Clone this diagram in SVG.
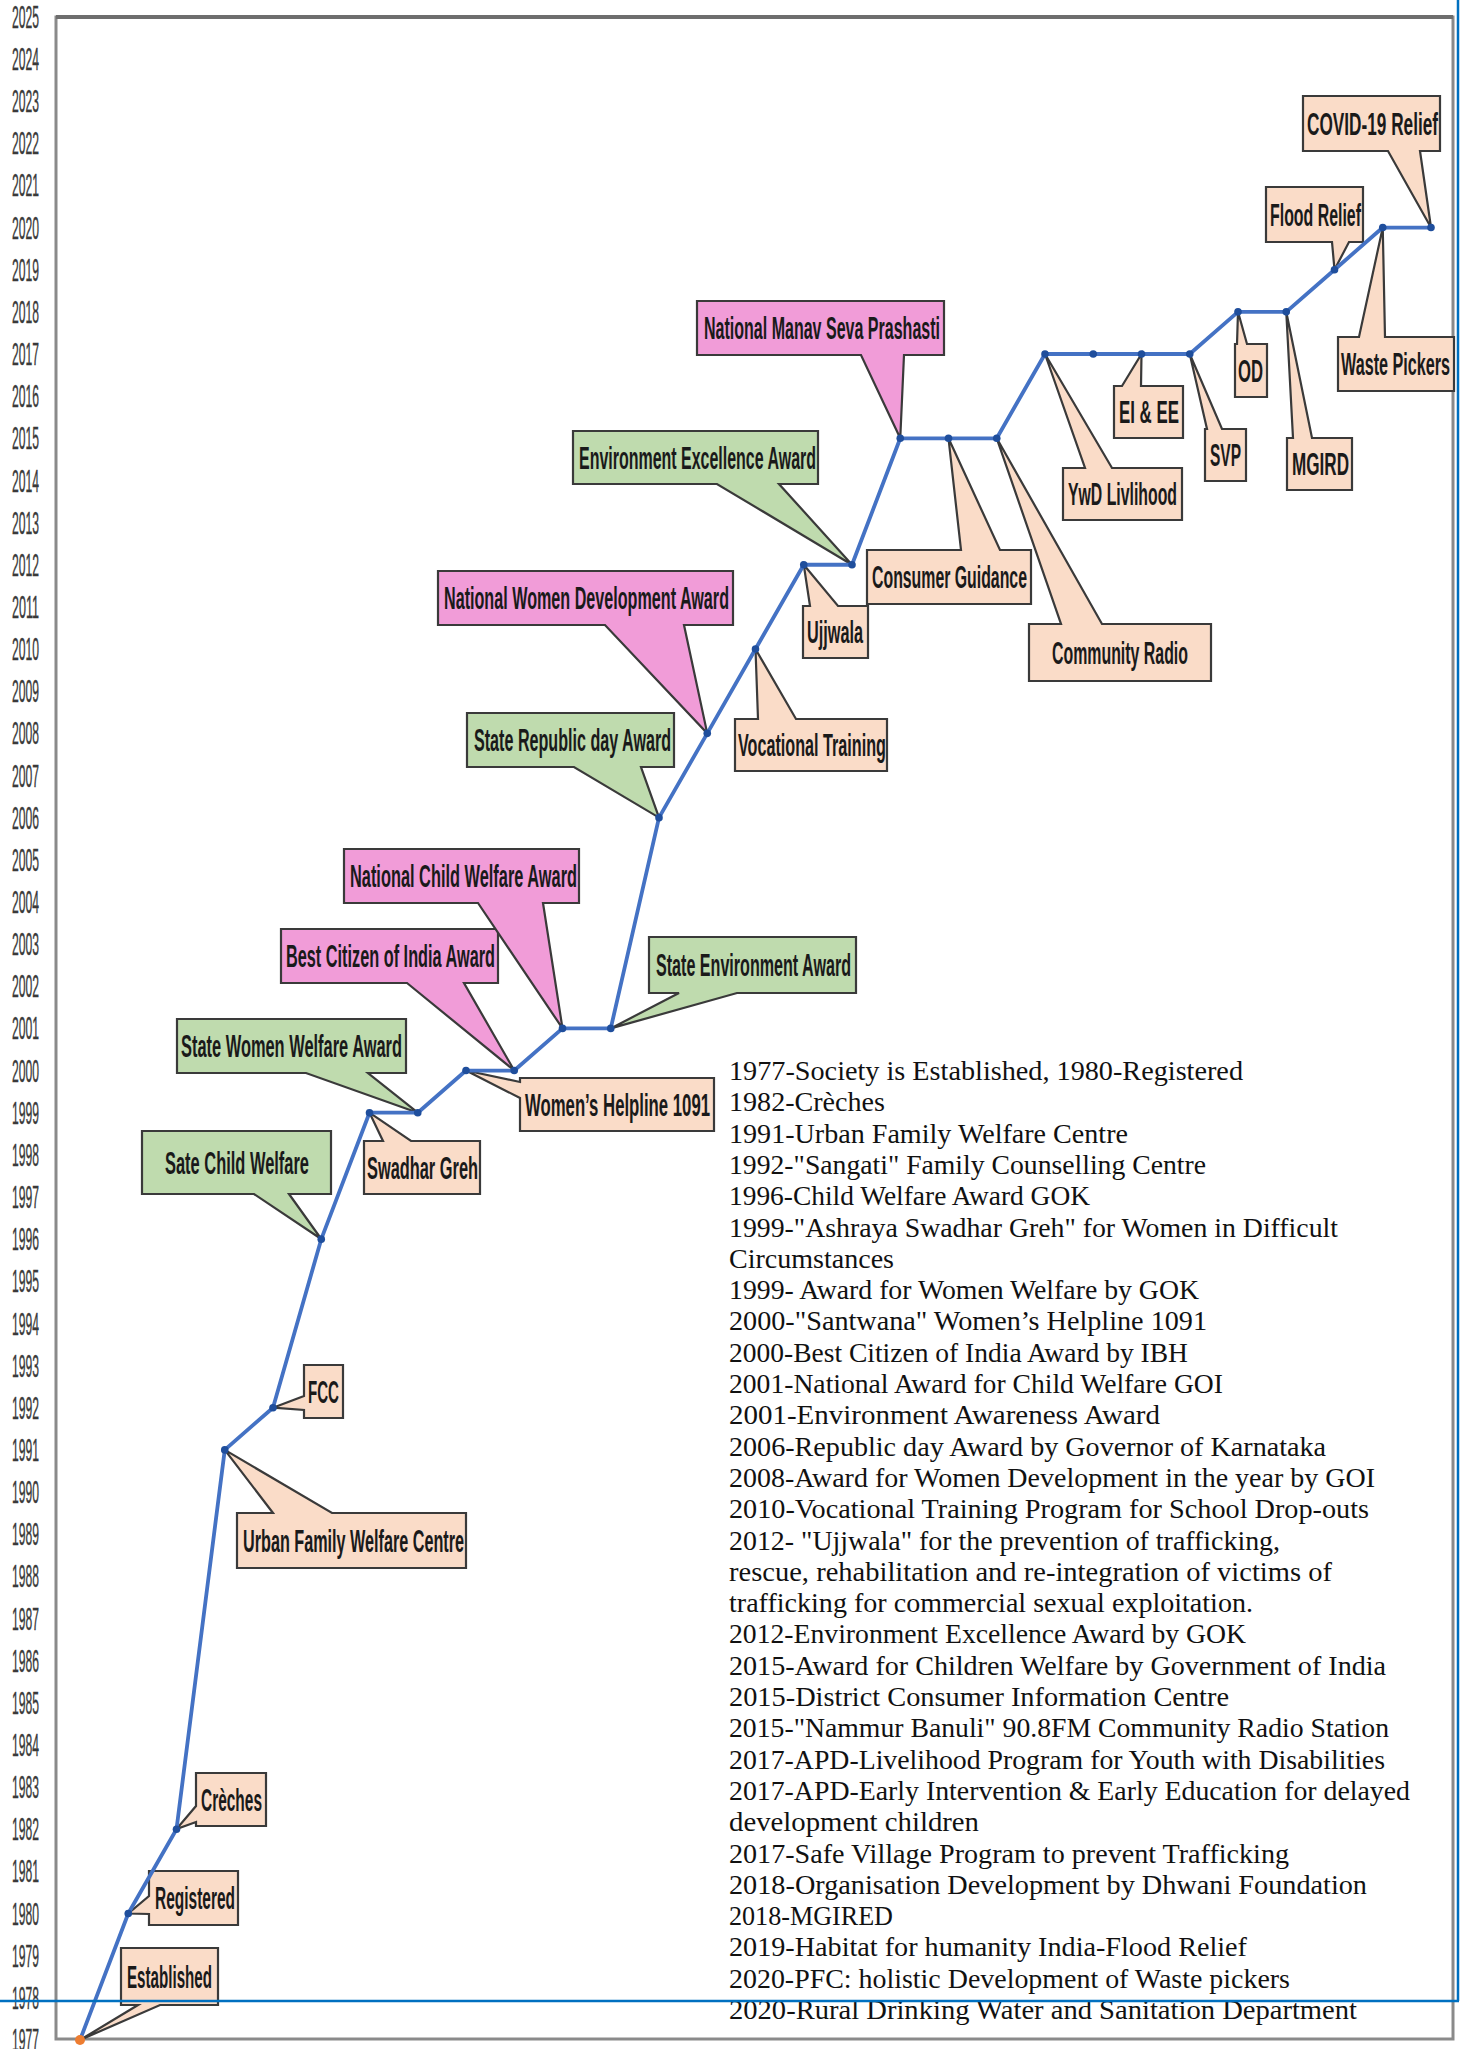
<svg xmlns="http://www.w3.org/2000/svg" width="1462" height="2049" viewBox="0 0 1462 2049">
<style>
.frame{fill:none;stroke:#8a8a8a;stroke-width:3}
.co path{stroke:#3a3a3a;stroke-width:2.2;stroke-linejoin:miter}
.peach{fill:#FADCC8}
.green{fill:#BFDBAE}
.pink{fill:#F19CD8}
.lbl{font-family:"Liberation Sans Narrow","Liberation Sans",Arial,sans-serif;font-weight:bold;font-size:31px;fill:#1a1a1a}
.yr{font-family:"Liberation Sans Narrow","Liberation Sans",Arial,sans-serif;font-size:31px;fill:#3a3a3a;stroke:#3a3a3a;stroke-width:0.4}
.note{font-family:"Liberation Serif","Times New Roman",serif;font-size:27px;fill:#111}
.tl{fill:none;stroke:#4472C4;stroke-width:3.8;stroke-linejoin:round}
.mk{fill:#1F4E9C}
.blue{stroke:#0070C0;stroke-width:2.5;fill:none}
</style>
<rect width="1462" height="2049" fill="#ffffff"/>
<g id="axis">
<rect class="frame" x="56" y="17" width="1397" height="2022"/>
<line x1="56" y1="17" x2="1453" y2="17" stroke="#6e6e6e" stroke-width="4"/>
<g class="yr">
<text x="12" y="2050.5" textLength="27" lengthAdjust="spacingAndGlyphs">1977</text>
<text x="12" y="2008.9" textLength="27" lengthAdjust="spacingAndGlyphs">1978</text>
<text x="12" y="1966.7" textLength="27" lengthAdjust="spacingAndGlyphs">1979</text>
<text x="12" y="1924.6" textLength="27" lengthAdjust="spacingAndGlyphs">1980</text>
<text x="12" y="1882.4" textLength="27" lengthAdjust="spacingAndGlyphs">1981</text>
<text x="12" y="1840.3" textLength="27" lengthAdjust="spacingAndGlyphs">1982</text>
<text x="12" y="1798.1" textLength="27" lengthAdjust="spacingAndGlyphs">1983</text>
<text x="12" y="1756" textLength="27" lengthAdjust="spacingAndGlyphs">1984</text>
<text x="12" y="1713.8" textLength="27" lengthAdjust="spacingAndGlyphs">1985</text>
<text x="12" y="1671.7" textLength="27" lengthAdjust="spacingAndGlyphs">1986</text>
<text x="12" y="1629.5" textLength="27" lengthAdjust="spacingAndGlyphs">1987</text>
<text x="12" y="1587.4" textLength="27" lengthAdjust="spacingAndGlyphs">1988</text>
<text x="12" y="1545.2" textLength="27" lengthAdjust="spacingAndGlyphs">1989</text>
<text x="12" y="1503.1" textLength="27" lengthAdjust="spacingAndGlyphs">1990</text>
<text x="12" y="1460.9" textLength="27" lengthAdjust="spacingAndGlyphs">1991</text>
<text x="12" y="1418.8" textLength="27" lengthAdjust="spacingAndGlyphs">1992</text>
<text x="12" y="1376.6" textLength="27" lengthAdjust="spacingAndGlyphs">1993</text>
<text x="12" y="1334.5" textLength="27" lengthAdjust="spacingAndGlyphs">1994</text>
<text x="12" y="1292.3" textLength="27" lengthAdjust="spacingAndGlyphs">1995</text>
<text x="12" y="1250.2" textLength="27" lengthAdjust="spacingAndGlyphs">1996</text>
<text x="12" y="1208" textLength="27" lengthAdjust="spacingAndGlyphs">1997</text>
<text x="12" y="1165.9" textLength="27" lengthAdjust="spacingAndGlyphs">1998</text>
<text x="12" y="1123.7" textLength="27" lengthAdjust="spacingAndGlyphs">1999</text>
<text x="12" y="1081.6" textLength="27" lengthAdjust="spacingAndGlyphs">2000</text>
<text x="12" y="1039.4" textLength="27" lengthAdjust="spacingAndGlyphs">2001</text>
<text x="12" y="997.3" textLength="27" lengthAdjust="spacingAndGlyphs">2002</text>
<text x="12" y="955.1" textLength="27" lengthAdjust="spacingAndGlyphs">2003</text>
<text x="12" y="913" textLength="27" lengthAdjust="spacingAndGlyphs">2004</text>
<text x="12" y="870.8" textLength="27" lengthAdjust="spacingAndGlyphs">2005</text>
<text x="12" y="828.7" textLength="27" lengthAdjust="spacingAndGlyphs">2006</text>
<text x="12" y="786.5" textLength="27" lengthAdjust="spacingAndGlyphs">2007</text>
<text x="12" y="744.4" textLength="27" lengthAdjust="spacingAndGlyphs">2008</text>
<text x="12" y="702.2" textLength="27" lengthAdjust="spacingAndGlyphs">2009</text>
<text x="12" y="660.1" textLength="27" lengthAdjust="spacingAndGlyphs">2010</text>
<text x="12" y="617.9" textLength="27" lengthAdjust="spacingAndGlyphs">2011</text>
<text x="12" y="575.8" textLength="27" lengthAdjust="spacingAndGlyphs">2012</text>
<text x="12" y="533.6" textLength="27" lengthAdjust="spacingAndGlyphs">2013</text>
<text x="12" y="491.5" textLength="27" lengthAdjust="spacingAndGlyphs">2014</text>
<text x="12" y="449.3" textLength="27" lengthAdjust="spacingAndGlyphs">2015</text>
<text x="12" y="407.2" textLength="27" lengthAdjust="spacingAndGlyphs">2016</text>
<text x="12" y="365" textLength="27" lengthAdjust="spacingAndGlyphs">2017</text>
<text x="12" y="322.9" textLength="27" lengthAdjust="spacingAndGlyphs">2018</text>
<text x="12" y="280.7" textLength="27" lengthAdjust="spacingAndGlyphs">2019</text>
<text x="12" y="238.6" textLength="27" lengthAdjust="spacingAndGlyphs">2020</text>
<text x="12" y="196.4" textLength="27" lengthAdjust="spacingAndGlyphs">2021</text>
<text x="12" y="154.3" textLength="27" lengthAdjust="spacingAndGlyphs">2022</text>
<text x="12" y="112.1" textLength="27" lengthAdjust="spacingAndGlyphs">2023</text>
<text x="12" y="70" textLength="27" lengthAdjust="spacingAndGlyphs">2024</text>
<text x="12" y="27.8" textLength="27" lengthAdjust="spacingAndGlyphs">2025</text>
</g>
</g>
<g id="callouts" class="co">
<g id="n-established"><path class="peach" d="M121,1948 H218 V2005 H160 L80,2040 L138,2005 H121 Z"/><text class="lbl" x="127" y="1988" textLength="85" lengthAdjust="spacingAndGlyphs">Established</text></g>
<g id="n-registered"><path class="peach" d="M149,1871 H238 V1925 H149 V1914 L128.25,1913.5 L149,1896 Z"/><text class="lbl" x="155" y="1909" textLength="80" lengthAdjust="spacingAndGlyphs">Registered</text></g>
<g id="n-creches"><path class="peach" d="M196,1773 H266 V1826 H196 V1822 L176.5,1829 L196,1806 Z"/><text class="lbl" x="201" y="1811" textLength="61" lengthAdjust="spacingAndGlyphs">Crèches</text></g>
<g id="n-fcc"><path class="peach" d="M304,1365 H343 V1418 H304 V1410 L273,1407.7 L304,1396 Z"/><text class="lbl" x="308" y="1403" textLength="31" lengthAdjust="spacingAndGlyphs">FCC</text></g>
<g id="n-urban"><path class="peach" d="M237,1513 H273 L224.75,1449.9 L332,1513 H466 V1568 H237 Z"/><text class="lbl" x="243" y="1552" textLength="221" lengthAdjust="spacingAndGlyphs">Urban Family Welfare Centre</text></g>
<g id="n-sate-child"><path class="green" d="M142,1131 H331 V1194 H289 L321.25,1239 L254,1194 H142 Z"/><text class="lbl" x="165" y="1174" textLength="144" lengthAdjust="spacingAndGlyphs">Sate Child Welfare</text></g>
<g id="n-swadhar"><path class="peach" d="M364,1141 H383 L369.5,1112.7 L411,1141 H480 V1194 H364 Z"/><text class="lbl" x="367" y="1179" textLength="111" lengthAdjust="spacingAndGlyphs">Swadhar Greh</text></g>
<g id="n-state-women"><path class="green" d="M177,1019 H406 V1073 H368 L417.75,1112.7 L306,1073 H177 Z"/><text class="lbl" x="181" y="1057" textLength="221" lengthAdjust="spacingAndGlyphs">State Women Welfare Award</text></g>
<g id="n-best-citizen"><path class="pink" d="M281,929 H498 V983 H464 L514.25,1070.5 L407,983 H281 Z"/><text class="lbl" x="286" y="967" textLength="209" lengthAdjust="spacingAndGlyphs">Best Citizen of India Award</text></g>
<g id="n-national-child"><path class="pink" d="M344,849 H579 V903 H543 L562.5,1028.4 L478,903 H344 Z"/><text class="lbl" x="350" y="887" textLength="227" lengthAdjust="spacingAndGlyphs">National Child Welfare Award</text></g>
<g id="n-helpline"><path class="peach" d="M520,1078 H714 V1131 H520 V1098 L466,1070.5 L520,1082 Z"/><text class="lbl" x="525" y="1116" textLength="185" lengthAdjust="spacingAndGlyphs">Women’s Helpline 1091</text></g>
<g id="n-state-env"><path class="green" d="M649,937 H856 V993 H737 L610.75,1028.4 L679,993 H649 Z"/><text class="lbl" x="656" y="976" textLength="195" lengthAdjust="spacingAndGlyphs">State Environment Award</text></g>
<g id="n-republic"><path class="green" d="M467,713 H674 V767 H641 L659,817.6 L574,767 H467 Z"/><text class="lbl" x="474" y="751" textLength="197" lengthAdjust="spacingAndGlyphs">State Republic day Award</text></g>
<g id="n-women-dev"><path class="pink" d="M438,571 H733 V625 H684 L707.25,733.3 L605,625 H438 Z"/><text class="lbl" x="444" y="609" textLength="285" lengthAdjust="spacingAndGlyphs">National Women Development Award</text></g>
<g id="n-vocational"><path class="peach" d="M735,719 H758 L755.5,649 L796,719 H887 V771 H735 Z"/><text class="lbl" x="738" y="756" textLength="148" lengthAdjust="spacingAndGlyphs">Vocational Training</text></g>
<g id="n-env-excellence"><path class="green" d="M573,431 H818 V484 H779 L852,564.7 L717,484 H573 Z"/><text class="lbl" x="579" y="469" textLength="237" lengthAdjust="spacingAndGlyphs">Environment Excellence Award</text></g>
<g id="n-ujjwala"><path class="peach" d="M803,606 H810 L803.75,564.7 L838,606 H868 V658 H803 Z"/><text class="lbl" x="807" y="643" textLength="56" lengthAdjust="spacingAndGlyphs">Ujjwala</text></g>
<g id="n-manav-seva"><path class="pink" d="M697,301 H944 V355 H904 L900.25,438.3 L861,355 H697 Z"/><text class="lbl" x="704" y="339" textLength="236" lengthAdjust="spacingAndGlyphs">National Manav Seva Prashasti</text></g>
<g id="n-consumer"><path class="peach" d="M867,550 H961 L948.5,438.3 L1000,550 H1031 V604 H867 Z"/><text class="lbl" x="872" y="588" textLength="155" lengthAdjust="spacingAndGlyphs">Consumer Guidance</text></g>
<g id="n-radio"><path class="peach" d="M1029,624 H1061 L996.75,438.3 L1102,624 H1211 V681 H1029 Z"/><text class="lbl" x="1052" y="664" textLength="136" lengthAdjust="spacingAndGlyphs">Community Radio</text></g>
<g id="n-ywd"><path class="peach" d="M1063,468 H1085 L1045,354 L1112,468 H1182 V520 H1063 Z"/><text class="lbl" x="1068" y="505" textLength="109" lengthAdjust="spacingAndGlyphs">YwD Livlihood</text></g>
<g id="n-ei-ee"><path class="peach" d="M1114,386 H1122 L1141.5,354 L1141,386 H1183 V438 H1114 Z"/><text class="lbl" x="1119" y="423" textLength="60" lengthAdjust="spacingAndGlyphs">EI &amp; EE</text></g>
<g id="n-svp"><path class="peach" d="M1205,429 H1207 L1189.75,354 L1222,429 H1246 V481 H1205 Z"/><text class="lbl" x="1210" y="466" textLength="31" lengthAdjust="spacingAndGlyphs">SVP</text></g>
<g id="n-od"><path class="peach" d="M1235,344 H1237 L1238,311.8 L1247,344 H1267 V397 H1235 Z"/><text class="lbl" x="1238" y="382" textLength="25" lengthAdjust="spacingAndGlyphs">OD</text></g>
<g id="n-mgird"><path class="peach" d="M1287,438 H1293 L1286.25,311.8 L1312,438 H1352 V490 H1287 Z"/><text class="lbl" x="1292" y="475" textLength="57" lengthAdjust="spacingAndGlyphs">MGIRD</text></g>
<g id="n-flood"><path class="peach" d="M1266,187 H1363 V242 H1349 L1334.5,269.7 L1332,242 H1266 Z"/><text class="lbl" x="1270" y="226" textLength="91" lengthAdjust="spacingAndGlyphs">Flood Relief</text></g>
<g id="n-waste"><path class="peach" d="M1338,337 H1359 L1382.75,227.5 L1385,337 H1454 V391 H1338 Z"/><text class="lbl" x="1341" y="375" textLength="109" lengthAdjust="spacingAndGlyphs">Waste Pickers</text></g>
<g id="n-covid"><path class="peach" d="M1303,96 H1440 V151 H1420 L1431,227.5 L1388,151 H1303 Z"/><text class="lbl" x="1307" y="135" textLength="131" lengthAdjust="spacingAndGlyphs">COVID-19 Relief</text></g>
</g>
<g id="connectors">
<polyline class="tl" points="80,2040 128.25,1913.55 176.5,1829.25 224.75,1449.9 273,1407.75 321.25,1239.15 369.5,1112.7 417.75,1112.7 466,1070.55 514.25,1070.55 562.5,1028.4 610.75,1028.4 659,817.65 707.25,733.35 755.5,649.05 803.75,564.75 852,564.75 900.25,438.3 948.5,438.3 996.75,438.3 1045,354 1093.25,354 1141.5,354 1189.75,354 1238,311.85 1286.25,311.85 1334.5,269.7 1382.75,227.55 1431,227.55"/>
<g class="mk">
<circle cx="128.25" cy="1913.55" r="3.8"/><circle cx="176.5" cy="1829.25" r="3.8"/><circle cx="224.75" cy="1449.9" r="3.8"/><circle cx="273" cy="1407.75" r="3.8"/><circle cx="321.25" cy="1239.15" r="3.8"/><circle cx="369.5" cy="1112.7" r="3.8"/><circle cx="417.75" cy="1112.7" r="3.8"/><circle cx="466" cy="1070.55" r="3.8"/><circle cx="514.25" cy="1070.55" r="3.8"/><circle cx="562.5" cy="1028.4" r="3.8"/><circle cx="610.75" cy="1028.4" r="3.8"/><circle cx="659" cy="817.65" r="3.8"/><circle cx="707.25" cy="733.35" r="3.8"/><circle cx="755.5" cy="649.05" r="3.8"/><circle cx="803.75" cy="564.75" r="3.8"/><circle cx="852" cy="564.75" r="3.8"/><circle cx="900.25" cy="438.3" r="3.8"/><circle cx="948.5" cy="438.3" r="3.8"/><circle cx="996.75" cy="438.3" r="3.8"/><circle cx="1045" cy="354" r="3.8"/><circle cx="1093.25" cy="354" r="3.8"/><circle cx="1141.5" cy="354" r="3.8"/><circle cx="1189.75" cy="354" r="3.8"/><circle cx="1238" cy="311.85" r="3.8"/><circle cx="1286.25" cy="311.85" r="3.8"/><circle cx="1334.5" cy="269.7" r="3.8"/><circle cx="1382.75" cy="227.55" r="3.8"/><circle cx="1431" cy="227.55" r="3.8"/>
</g>
<circle cx="80" cy="2040" r="5" fill="#ED7D31"/>
</g>
<g id="notes" class="note">
<text x="729" y="1080" textLength="514" lengthAdjust="spacingAndGlyphs">1977-Society is Established, 1980-Registered</text>
<text x="729" y="1111.3" textLength="156" lengthAdjust="spacingAndGlyphs">1982-Crèches</text>
<text x="729" y="1142.6" textLength="399" lengthAdjust="spacingAndGlyphs">1991-Urban Family Welfare Centre</text>
<text x="729" y="1173.9" textLength="477" lengthAdjust="spacingAndGlyphs">1992-"Sangati" Family Counselling Centre</text>
<text x="729" y="1205.2" textLength="361" lengthAdjust="spacingAndGlyphs">1996-Child Welfare Award GOK</text>
<text x="729" y="1236.5" textLength="609" lengthAdjust="spacingAndGlyphs">1999-"Ashraya Swadhar Greh" for Women in Difficult</text>
<text x="729" y="1267.8" textLength="165" lengthAdjust="spacingAndGlyphs">Circumstances</text>
<text x="729" y="1299.1" textLength="470" lengthAdjust="spacingAndGlyphs">1999- Award for Women Welfare by GOK</text>
<text x="729" y="1330.4" textLength="478" lengthAdjust="spacingAndGlyphs">2000-"Santwana" Women’s Helpline 1091</text>
<text x="729" y="1361.7" textLength="459" lengthAdjust="spacingAndGlyphs">2000-Best Citizen of India Award by IBH</text>
<text x="729" y="1393" textLength="494" lengthAdjust="spacingAndGlyphs">2001-National Award for Child Welfare GOI</text>
<text x="729" y="1424.3" textLength="431" lengthAdjust="spacingAndGlyphs">2001-Environment Awareness Award</text>
<text x="729" y="1455.6" textLength="597" lengthAdjust="spacingAndGlyphs">2006-Republic day Award by Governor of Karnataka</text>
<text x="729" y="1486.9" textLength="646" lengthAdjust="spacingAndGlyphs">2008-Award for Women Development in the year by GOI</text>
<text x="729" y="1518.2" textLength="640" lengthAdjust="spacingAndGlyphs">2010-Vocational Training Program for School Drop-outs</text>
<text x="729" y="1549.5" textLength="551" lengthAdjust="spacingAndGlyphs">2012- "Ujjwala" for the prevention of trafficking,</text>
<text x="729" y="1580.8" textLength="603" lengthAdjust="spacingAndGlyphs">rescue, rehabilitation and re-integration of victims of</text>
<text x="729" y="1612.1" textLength="524" lengthAdjust="spacingAndGlyphs">trafficking for commercial sexual exploitation.</text>
<text x="729" y="1643.4" textLength="517" lengthAdjust="spacingAndGlyphs">2012-Environment Excellence Award by GOK</text>
<text x="729" y="1674.7" textLength="657" lengthAdjust="spacingAndGlyphs">2015-Award for Children Welfare by Government of India</text>
<text x="729" y="1706" textLength="500" lengthAdjust="spacingAndGlyphs">2015-District Consumer Information Centre</text>
<text x="729" y="1737.3" textLength="660" lengthAdjust="spacingAndGlyphs">2015-"Nammur Banuli" 90.8FM Community Radio Station</text>
<text x="729" y="1768.6" textLength="656" lengthAdjust="spacingAndGlyphs">2017-APD-Livelihood Program for Youth with Disabilities</text>
<text x="729" y="1799.9" textLength="681" lengthAdjust="spacingAndGlyphs">2017-APD-Early Intervention &amp; Early Education for delayed</text>
<text x="729" y="1831.2" textLength="250" lengthAdjust="spacingAndGlyphs">development children</text>
<text x="729" y="1862.5" textLength="560" lengthAdjust="spacingAndGlyphs">2017-Safe Village Program to prevent Trafficking</text>
<text x="729" y="1893.8" textLength="638" lengthAdjust="spacingAndGlyphs">2018-Organisation Development by Dhwani Foundation</text>
<text x="729" y="1925.1" textLength="164" lengthAdjust="spacingAndGlyphs">2018-MGIRED</text>
<text x="729" y="1956.4" textLength="518" lengthAdjust="spacingAndGlyphs">2019-Habitat for humanity India-Flood Relief</text>
<text x="729" y="1987.7" textLength="561" lengthAdjust="spacingAndGlyphs">2020-PFC: holistic Development of Waste pickers</text>
<text x="729" y="2019" textLength="628" lengthAdjust="spacingAndGlyphs">2020-Rural Drinking Water and Sanitation Department</text>
</g>
<g id="overlay-lines">
<line class="blue" x1="1458" y1="0" x2="1458" y2="2001"/>
<line class="blue" x1="0" y1="2001" x2="1459" y2="2001"/>
</g>
</svg>
